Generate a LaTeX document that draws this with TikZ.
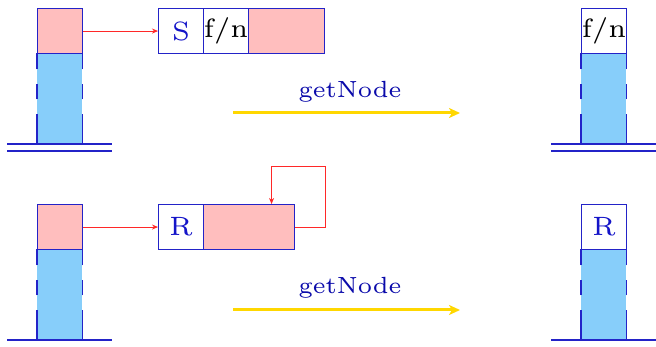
\documentclass[tikz,border=0pt]{standalone}
\usepackage{fontspec}
\setmainfont{lmroman6-regular.otf}
\usetikzlibrary{arrows.meta}
\definecolor{bord}{RGB}{35,35,200}
\definecolor{pinkf}{RGB}{255,190,190}
\definecolor{bluef}{RGB}{135,206,250}
\definecolor{txtblue}{RGB}{10,10,170}
\definecolor{cellblue}{RGB}{20,20,200}
\definecolor{goldc}{RGB}{255,215,0}
\definecolor{redc}{RGB}{255,40,40}
\begin{document}
\begin{tikzpicture}[x=1pt,y=-1pt,
  cell/.style={draw=bord, line width=1.1pt, minimum width=45pt, minimum height=45pt,
    inner sep=0pt, anchor=north west, font=\fontsize{26.5}{30}\selectfont},
  pinkcell/.style={cell, fill=pinkf},
  col/.style={fill=bluef, draw=none, minimum width=45pt, minimum height=91pt,
    inner sep=0pt, anchor=north west},
  side/.style={bord, line width=1.1pt, dash pattern=on 30pt off 15pt on 15pt off 15pt on 16pt off 10pt},
  ground/.style={bord, line width=1.1pt},
  ptr/.style={redc, line width=0.8pt, -{Stealth[length=6pt,width=5pt]}},
  big/.style={goldc, line width=3pt, -{Stealth[length=11pt,width=10pt,inset=3pt]}},
  lab/.style={text=txtblue, font=\fontsize{23.4}{27}\selectfont, inner sep=0pt}
]
\useasboundingbox (0,0) rectangle (656,347);

% ---------- top row ----------
\node[col] (b1) at (37,53) {};
\draw[side] (b1.south west) -- (b1.north west);
\draw[side] (b1.south east) -- (b1.north east);
\node[pinkcell] (p1) at (37,8) {};
\draw[ground] (7,144) -- (112,144);
\draw[ground] (7,151) -- (112,151);

\node[cell, text=cellblue] (s) at (158,8) {S};
\node[cell] (fn) at (203,8) {f/n};
\node[pinkcell, minimum width=76pt] (l1) at (248,8) {};
\draw[ptr] (p1.east) -- (s.west);

\node[lab] (g1) at (350,92) {getNode};
\coordinate (a1) at (233,113);
\coordinate (a2) at (460,113);
\draw[big] (a1) -- (a2);

\node[col] (b2) at (581,53) {};
\draw[side] (b2.south west) -- (b2.north west);
\draw[side] (b2.south east) -- (b2.north east);
\node[cell] (fn2) at (581,8) {f/n};
\draw[ground] (551,144) -- (656,144);
\draw[ground] (551,151) -- (656,151);

% ---------- bottom row ----------
\node[col] (b3) at (37,249) {};
\draw[side] (b3.south west) -- (b3.north west);
\draw[side] (b3.south east) -- (b3.north east);
\node[pinkcell] (p2) at (37,204) {};
\draw[ground] (7,340) -- (112,340);

\node[cell, text=cellblue] (r) at (158,204) {R};
\node[pinkcell, minimum width=91pt] (l2) at (203,204) {};
\draw[ptr] (p2.east) -- (r.west);
\draw[ptr] (l2.east) -- ++(30,0) -- ++(0,-61) -| ([xshift=22.5pt]l2.north);

\node[lab] (g2) at (350,288) {getNode};
\coordinate (a3) at (233,310);
\coordinate (a4) at (460,310);
\draw[big] (a3) -- (a4);

\node[col] (b4) at (581,249) {};
\draw[side] (b4.south west) -- (b4.north west);
\draw[side] (b4.south east) -- (b4.north east);
\node[cell, text=cellblue] (r2) at (581,204) {R};
\draw[ground] (551,340) -- (656,340);
\end{tikzpicture}
\end{document}
